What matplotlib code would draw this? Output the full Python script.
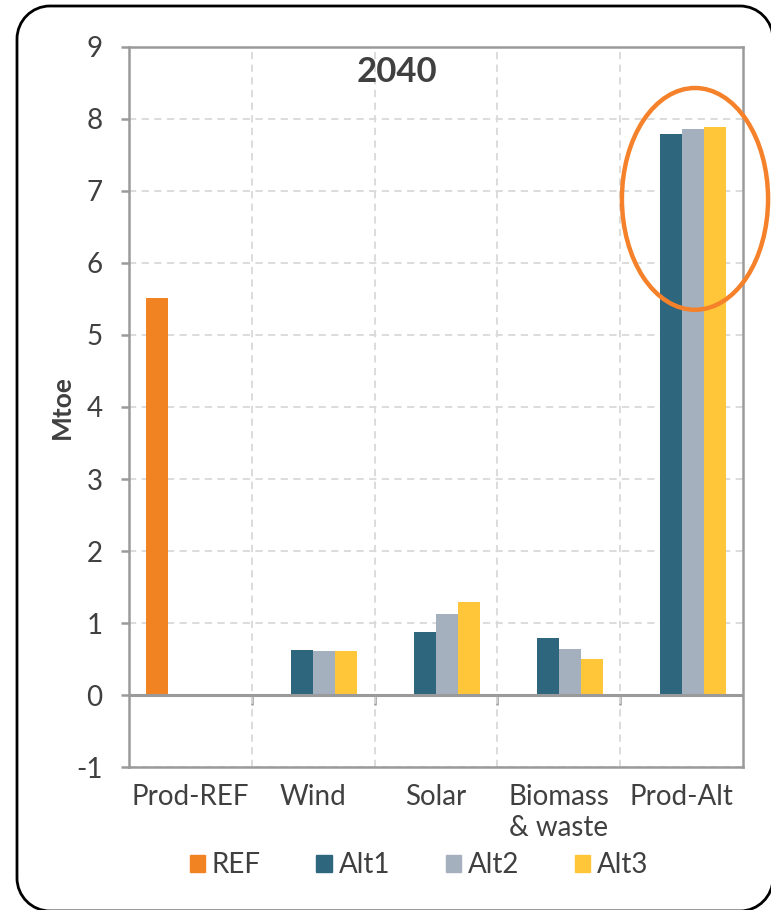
import matplotlib.pyplot as plt
import numpy as np
from matplotlib.patches import Ellipse, PathPatch, Patch
from matplotlib.path import Path

plt.rcParams['font.family'] = ['Lato', 'DejaVu Sans']
plt.rcParams['axes.unicode_minus'] = False

categories = ["Prod-REF", "Wind", "Solar", "Biomass\n& waste", "Prod-Alt"]
series = ["REF", "Alt1", "Alt2", "Alt3"]
ref = [5.51, 0, 0, 0, 0]
alt1 = [0, 0.625, 0.875, 0.79, 7.79]
alt2 = [0, 0.61, 1.12, 0.635, 7.86]
alt3 = [0, 0.61, 1.29, 0.50, 7.89]
colors = ["#F28322", "#2E667E", "#A5B0BE", "#FFC63A"]

txt = "#404040"
axis_grey = "#9a9a9a"

fig = plt.figure(figsize=(7.71, 9.10), dpi=100)
ax = fig.add_axes([0.1673, 0.1571, 0.7964, 0.7913])

x = np.arange(len(categories))
w = 0.18
for i, vals in enumerate([ref, alt1, alt2, alt3]):
    ax.bar(x + (i - 1.5) * w, vals, width=w, color=colors[i], zorder=3)

ax.set_xlim(-0.5, len(categories) - 0.5)
ax.set_ylim(-1, 9)
ax.set_yticks(range(-1, 10))
ax.set_xticks(x)
ax.set_xticklabels(categories, linespacing=1.25)
ax.set_xticks(x[:-1] + 0.5, minor=True)

ax.grid(True, which="major", axis="y", color="#d9d9d9", ls=(0, (4, 3)), lw=1.3, zorder=0)
ax.grid(True, which="minor", axis="x", color="#d9d9d9", ls=(0, (4, 3)), lw=1.3, zorder=0)

for s in ax.spines.values():
    s.set_color(axis_grey)
    s.set_linewidth(1.8)

ax.tick_params(axis="y", colors=axis_grey, length=6, width=1.8, pad=13,
               labelsize=20, labelcolor=txt)
ax.tick_params(axis="x", which="both", length=0, pad=12, labelsize=20, labelcolor=txt)

# horizontal axis crossing at zero, with ticks between categories
ax.axhline(0, color=axis_grey, lw=2.2, zorder=4)
zero = ax.secondary_xaxis(0.1)
zero.set_xticks(x[:-1] + 0.5)
zero.set_xticklabels([])
zero.spines["bottom"].set_visible(False)
zero.tick_params(axis="x", length=7, width=1.8, colors=axis_grey)

ax.set_ylabel("Mtoe", fontsize=19, fontweight="bold", color=txt)
ax.yaxis.set_label_coords(-0.09, 0.5)

fig.text(397 / 771, 1 - 72 / 910, "2040", fontsize=25, fontweight="bold",
         color=txt, ha="center", va="center")

# highlight around the Prod-Alt group
ax.add_patch(Ellipse((4.109, 6.89), 1.19, 3.08, fill=False, ec="#F5822A",
                     lw=3.2, clip_on=False, zorder=5))

handles = [Patch(color=c) for c in colors]
fig.legend(handles, series, loc="center", bbox_to_anchor=(419 / 771, 1 - 865 / 910),
           ncol=4, frameon=False, fontsize=20, handlelength=0.55, handleheight=0.55,
           handletextpad=0.25, columnspacing=2.0, labelcolor=txt)

# rounded outer frame, open on the right side (that edge sits past the canvas)
W, H = 771, 910
L, R, T, B, r = 17, 773, 904, -1, 33
k = 0.5523 * r
verts = [
    (R, T - r), (R, T - r + k), (R - r + k, T), (R - r, T),
    (L + r, T), (L + r - k, T), (L, T - r + k), (L, T - r),
    (L, B + r), (L, B + r - k), (L + r - k, B), (L + r, B),
    (R - r, B), (R - r + k, B), (R, B + r - k), (R, B + r),
]
codes = [Path.MOVETO, Path.CURVE4, Path.CURVE4, Path.CURVE4,
         Path.LINETO, Path.CURVE4, Path.CURVE4, Path.CURVE4,
         Path.LINETO, Path.CURVE4, Path.CURVE4, Path.CURVE4,
         Path.LINETO, Path.CURVE4, Path.CURVE4, Path.CURVE4]
verts = [(vx / W, vy / H) for vx, vy in verts]
fig.add_artist(PathPatch(Path(verts, codes), transform=fig.transFigure,
                         fill=False, ec="black", lw=2.0, capstyle="butt"))

fig.savefig("out.png", dpi=100)
